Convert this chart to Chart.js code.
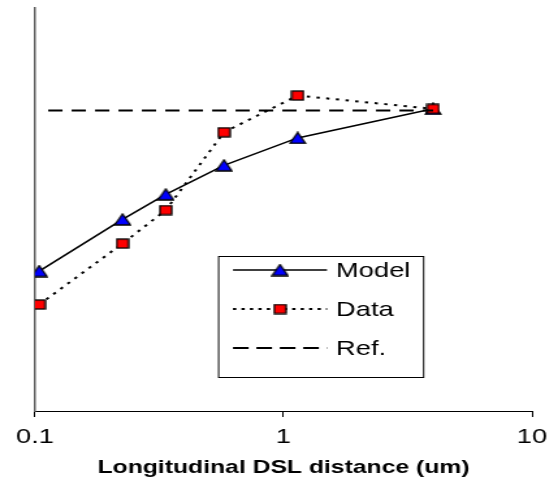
<!DOCTYPE html>
<html>
<head>
<meta charset="utf-8">
<script src="https://cdn.jsdelivr.net/npm/chart.js@4/dist/chart.umd.min.js"></script>
<style>
html,body{margin:0;padding:0;background:#fff;overflow:hidden}
#outer{width:558px;height:483px;position:relative;overflow:hidden}
#wrap{position:absolute;left:0;top:0;height:483px;transform-origin:0 0}
</style>
</head>
<body>
<div id="outer"><div id="wrap"><canvas id="c"></canvas></div></div>
<script>
// ---- data ----
const xPositions   = [0.104, 0.225, 0.336, 0.576, 1.14, 4.0];
const modelValues  = [0.347, 0.475, 0.537, 0.609, 0.677, 0.749];
const dataValues   = [0.264, 0.415, 0.498, 0.691, 0.782, 0.749];
const refX         = [0.113, 4.0];
const refValues    = [0.745, 0.745];
const xTickValues  = [0.1, 1, 10];
const seriesNames  = ['Model', 'Data', 'Ref.'];
const xAxisTitle   = 'Longitudinal DSL distance (um)';

// ---- layout (the original picture is horizontally stretched) ----
const INNER_W = 429;
const SX = 558 / INNER_W;
const wrap = document.getElementById('wrap');
wrap.style.width = INNER_W + 'px';
wrap.style.transform = 'scaleX(' + SX + ')';
const ix = v => v / SX;

const FONT = '"Liberation Sans", Arial, sans-serif';

function makeTriangle() {
  const w = 12, h = 11, c = document.createElement('canvas');
  c.width = w + 2; c.height = h + 2;
  const g = c.getContext('2d');
  g.beginPath(); g.moveTo((w + 2) / 2, 1); g.lineTo(w + 1, h + 1); g.lineTo(1, h + 1); g.closePath();
  g.fillStyle = '#0000ff'; g.fill(); g.lineWidth = 1.3; g.strokeStyle = '#000'; g.stroke();
  return c;
}
function makeSquare() {
  const w = 9, h = 9, c = document.createElement('canvas');
  c.width = w + 2; c.height = h + 2;
  const g = c.getContext('2d');
  g.fillStyle = '#ff0000'; g.fillRect(1, 1, w, h);
  g.lineWidth = 1.3; g.strokeStyle = '#000'; g.strokeRect(1, 1, w, h);
  return c;
}
const triImg = makeTriangle();
const sqImg = makeSquare();

const pts = (xs, ys) => xs.map((x, i) => ({x: x, y: ys[i]}));

const legendPlugin = {
  id: 'boxLegend',
  afterDraw(chart) {
    const ctx = chart.ctx;
    const L = ix(218), R = ix(423), T = 256, B = 377;
    ctx.save();
    ctx.fillStyle = '#fff';
    ctx.fillRect(L, T, R - L, B - T);
    ctx.strokeStyle = '#000'; ctx.lineWidth = 1;
    ctx.strokeRect(L + 0.5, T + 0.5, R - L, B - T);
    const rows = [270, 309, 348];
    const x0 = ix(233), x1 = ix(327), xm = ix(280), xt = ix(336);
    chart.data.datasets.forEach((ds, i) => {
      const y = rows[i];
      ctx.beginPath();
      ctx.setLineDash(ds.legendDash || []);
      ctx.strokeStyle = ds.borderColor; ctx.lineWidth = ds.borderWidth;
      ctx.moveTo(x0, y); ctx.lineTo(x1, y); ctx.stroke();
      ctx.setLineDash([]);
      if (ds.pointStyle && ds.pointRadius > 0) {
        const im = ds.pointStyle;
        ctx.drawImage(im, xm - im.width / 2, y - im.height / 2);
      }
      ctx.fillStyle = '#000';
      ctx.font = '21px ' + FONT;
      ctx.textBaseline = 'middle'; ctx.textAlign = 'left';
      ctx.fillText(ds.label, xt, y + 1);
    });
    ctx.restore();
  }
};

new Chart(document.getElementById('c'), {
  type: 'scatter',
  data: {
    datasets: [
      {label: seriesNames[0], data: pts(xPositions, modelValues), showLine: true,
       borderColor: '#000', borderWidth: 1.6, pointStyle: triImg, pointRadius: 6,
       order: 3},
      {label: seriesNames[1], data: pts(xPositions, dataValues), showLine: true,
       borderColor: '#000', borderWidth: 2, borderDash: [2.5, 5], legendDash: [2.5, 4],
       pointStyle: sqImg, pointRadius: 5, order: 2},
      {label: seriesNames[2], data: pts(refX, refValues), showLine: true,
       borderColor: '#000', borderWidth: 2, borderDash: [11, 7], legendDash: [12, 6],
       pointRadius: 0, order: 1}
    ]
  },
  options: {
    responsive: true, maintainAspectRatio: false, animation: false,
    layout: {padding: {left: ix(35), right: INNER_W - ix(532), top: 7, bottom: 0}},
    plugins: {legend: {display: false}, tooltip: {enabled: false}},
    scales: {
      x: {
        type: 'logarithmic', min: 0.1, max: 10,
        afterBuildTicks: s => { s.ticks = xTickValues.map(v => ({value: v})); },
        afterFit: s => { s.height = 72; },
        ticks: {color: '#000', font: {family: FONT, size: 21}, padding: 8,
                callback: v => String(v), maxRotation: 0, autoSkip: false},
        grid: {display: true, drawOnChartArea: false, drawTicks: true, tickLength: 6, color: '#000', tickWidth: 1},
        border: {display: true, color: '#000', width: 1},
        title: {display: true, text: xAxisTitle, color: '#000',
                font: {family: FONT, size: 19, weight: 'bold'}, padding: {top: 0, bottom: 4}}
      },
      y: {
        min: 0, max: 1,
        afterFit: s => { s.width = 0; },
        ticks: {display: false},
        grid: {display: false, drawTicks: false},
        border: {display: true, color: '#606060', width: 1.5}
      }
    }
  },
  plugins: [legendPlugin]
});
</script>
</body>
</html>
